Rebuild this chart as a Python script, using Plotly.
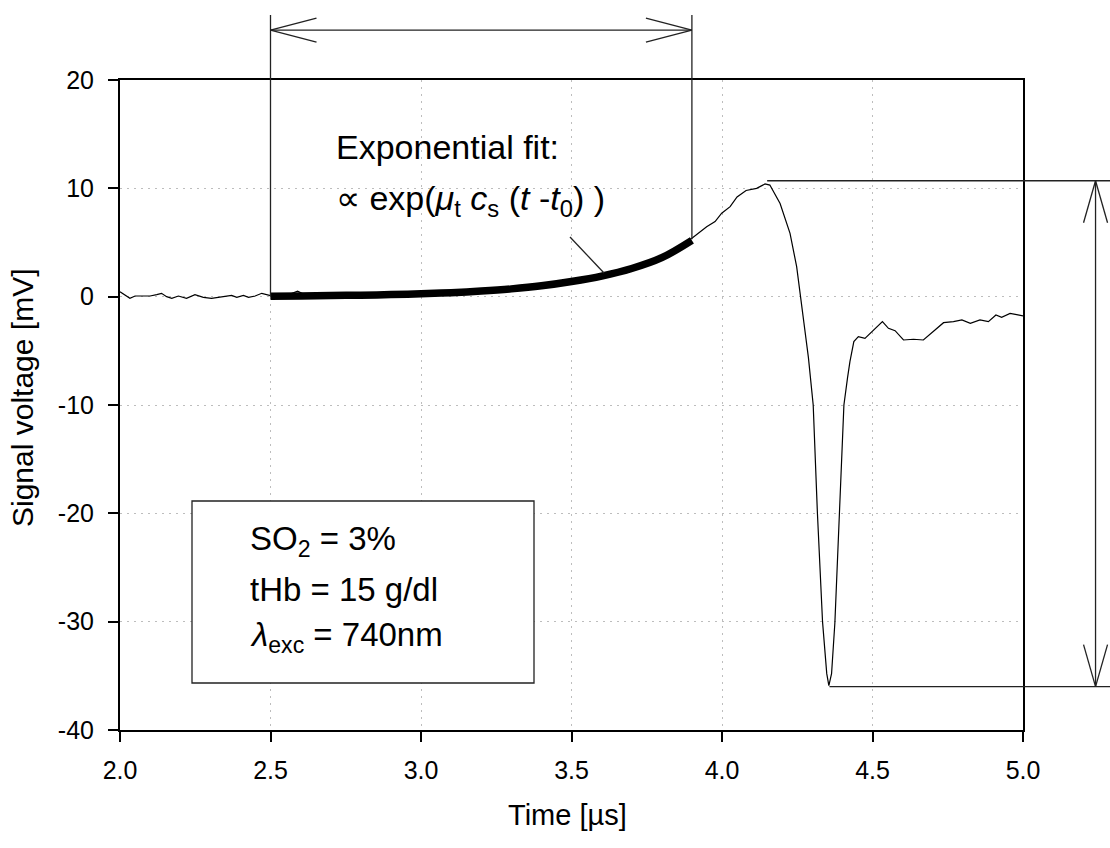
import plotly.graph_objects as go

# ---------------- data ----------------
t_sig = [2.00, 2.017, 2.033, 2.05, 2.077, 2.10, 2.122, 2.138, 2.155, 2.172, 2.194, 2.221,
         2.249, 2.277, 2.304, 2.332, 2.349, 2.371, 2.388, 2.41, 2.427, 2.449, 2.471, 2.488,
         2.50, 2.55, 2.59, 2.62, 2.70, 2.80, 2.90, 3.00, 3.10, 3.20, 3.30, 3.40, 3.50, 3.60,
         3.70, 3.80, 3.90,
         3.949, 3.977, 3.999, 4.027, 4.05, 4.08, 4.115, 4.143, 4.159, 4.193,
         4.226, 4.248, 4.27, 4.287, 4.303, 4.317, 4.334, 4.348, 4.355,
         4.364, 4.375, 4.39, 4.405, 4.417, 4.425, 4.438, 4.453, 4.475, 4.497,
         4.533, 4.553, 4.575, 4.603, 4.636, 4.669, 4.703, 4.736, 4.769, 4.797,
         4.825, 4.857, 4.885, 4.91, 4.929, 4.957, 4.979, 5.00]
v_sig = [0.46, 0.16, -0.15, 0.06, 0.06, 0.06, 0.19, 0.31, 0.0, -0.15, 0.06, -0.15,
         0.19, -0.06, -0.15, -0.06, 0.0, 0.12, -0.06, 0.12, -0.06, 0.06, 0.31, 0.19,
         0.10, 0.08, 0.50, 0.10, 0.12, 0.15, 0.20, 0.28, 0.38, 0.52, 0.73, 1.00, 1.40, 1.90,
         2.60, 3.65, 5.40,
         6.46, 6.93, 7.70, 8.31, 9.2, 9.8, 10.0, 10.4, 10.3, 8.6,
         5.85, 2.77, -2.15, -5.6, -10.0, -20.0, -30.0, -34.8, -35.9,
         -34.8, -30.1, -20.0, -10.0, -7.5, -6.0, -4.15, -3.69, -3.85, -3.23,
         -2.31, -2.92, -3.14, -4.0, -3.93, -4.0, -3.23, -2.4, -2.31, -2.15,
         -2.46, -2.15, -2.31, -1.69, -1.9, -1.54, -1.66, -1.78]

t_fit = [2.5, 2.6, 2.7, 2.8, 2.9, 3.0, 3.1, 3.2, 3.3, 3.4, 3.5, 3.6, 3.7, 3.8, 3.9]
v_fit = [0.05, 0.07, 0.10, 0.14, 0.19, 0.27, 0.37, 0.52, 0.72, 1.00, 1.40, 1.90, 2.60, 3.60, 5.20]

x_ticks = [2.0, 2.5, 3.0, 3.5, 4.0, 4.5, 5.0]
x_ticktext = ["2.0", "2.5", "3.0", "3.5", "4.0", "4.5", "5.0"]
y_ticks = [20, 10, 0, -10, -20, -30, -40]
y_ticktext = ["20", "10", "0", "-10", "-20", "-30", "-40"]

# marker values for the dimension lines
t_fit_start, t_fit_end = 2.5, 3.9
v_fit_end = 5.3
v_span_line = 24.6      # level of the horizontal double arrow
v_span_top = 26.0       # top of the vertical extension lines
t_peak, v_peak = 4.15, 10.7
t_min, v_min = 4.357, -36.0
t_amp_arrow = 5.241
t_right_end = 5.30

X_RANGE = [2.0, 5.0]
Y_RANGE = [-40.0, 20.0]

assert len(t_sig) == len(v_sig)

FONT = "Liberation Sans, Arial, sans-serif"
W, H = 1110, 848
ML, MR, MT, MB = 120, 87, 80, 118
PW, PH = W - ML - MR, H - MT - MB


def px(t):
    return (t - X_RANGE[0]) / (X_RANGE[1] - X_RANGE[0])


def py(v):
    return (v - Y_RANGE[0]) / (Y_RANGE[1] - Y_RANGE[0])


def pix_x(X):
    return (X - ML) / PW


def pix_y(Y):
    return (H - MB - Y) / PH


fig = go.Figure()
fig.add_trace(go.Scatter(x=t_sig, y=v_sig, mode="lines",
                         line=dict(color="black", width=1.2), showlegend=False))
fig.add_trace(go.Scatter(x=t_fit, y=v_fit, mode="lines",
                         line=dict(color="black", width=7.5, shape="spline"), showlegend=False))

shapes = []


def pline(x0, y0, x1, y1, w=1.3, col="#222222"):
    shapes.append(dict(type="line", xref="paper", yref="paper",
                       x0=x0, y0=y0, x1=x1, y1=y1,
                       line=dict(color=col, width=w), layer="above"))


# arrowhead sizes in data units
dt_head = 46 / PW * (X_RANGE[1] - X_RANGE[0])
dv_head = 12 / PH * (Y_RANGE[1] - Y_RANGE[0])
dt_head_v = 12 / PW * (X_RANGE[1] - X_RANGE[0])
dv_head_v = 42 / PH * (Y_RANGE[1] - Y_RANGE[0])

# vertical extension lines and horizontal double arrow
pline(px(t_fit_start), py(0.0), px(t_fit_start), py(v_span_top))
pline(px(t_fit_end), py(v_fit_end), px(t_fit_end), py(v_span_top))
pline(px(t_fit_start), py(v_span_line), px(t_fit_end), py(v_span_line))
for s in (1, -1):
    pline(px(t_fit_start), py(v_span_line), px(t_fit_start + dt_head), py(v_span_line + s * dv_head))
    pline(px(t_fit_end), py(v_span_line), px(t_fit_end - dt_head), py(v_span_line + s * dv_head))

# amplitude lines and vertical double arrow
pline(px(t_peak), py(v_peak), px(t_right_end), py(v_peak))
pline(px(t_min), py(v_min), px(t_right_end), py(v_min))
pline(px(t_amp_arrow), py(v_peak), px(t_amp_arrow), py(v_min))
for s in (1, -1):
    pline(px(t_amp_arrow), py(v_peak), px(t_amp_arrow + s * dt_head_v), py(v_peak - dv_head_v))
    pline(px(t_amp_arrow), py(v_min), px(t_amp_arrow + s * dt_head_v), py(v_min + dv_head_v))

# leader line from text to fit curve
pline(pix_x(570), pix_y(237), pix_x(604), pix_y(273))

# parameter box
shapes.append(dict(type="rect", xref="paper", yref="paper",
                   x0=pix_x(192), y0=pix_y(683), x1=pix_x(534), y1=pix_y(501),
                   line=dict(color="#222222", width=1.3), fillcolor="white", layer="above"))

annotations = []


def ptext(X, Y, txt, size, xanchor="left", yanchor="middle", angle=0):
    annotations.append(dict(xref="paper", yref="paper", x=pix_x(X), y=pix_y(Y),
                            text=txt, showarrow=False, xanchor=xanchor, yanchor=yanchor,
                            textangle=angle, font=dict(family=FONT, size=size, color="black")))


ptext(334, 147, "Exponential fit:", 34)
ptext(334, 200, "\u221d exp(<i>\u03bc</i><sub>t</sub> <i>c</i><sub>s</sub> (<i>t</i> -<i>t</i><sub>0</sub>) )", 34)
ptext(248, 541, "SO<sub>2</sub> = 3%", 33)
ptext(248, 589, "tHb = 15 g/dl", 33)
ptext(248, 637, "<i>\u03bb</i><sub>exc</sub> = 740nm", 33)

# axis titles
ptext(567, 815, "Time [\u00b5s]", 29, xanchor="center")
ptext(22, 398, "Signal voltage [mV]", 30, xanchor="center", angle=-90)

fig.update_layout(
    width=W, height=H,
    margin=dict(l=ML, r=MR, t=MT, b=MB, pad=0),
    paper_bgcolor="white", plot_bgcolor="white",
    font=dict(family=FONT, size=25, color="black"),
    shapes=shapes, annotations=annotations,
    showlegend=False,
)
common = dict(showline=True, linecolor="black", linewidth=2, mirror=True,
              ticks="outside", ticklen=10, tickwidth=1.5, tickcolor="black",
              showgrid=True, gridcolor="#bdbdbd", gridwidth=1, griddash="2px,5px",
              zeroline=False, tickfont=dict(size=25, family=FONT))
fig.update_xaxes(range=X_RANGE, tickvals=x_ticks, ticktext=x_ticktext,
                 ticklabelstandoff=7, **common)
fig.update_yaxes(range=Y_RANGE, tickvals=y_ticks, ticktext=y_ticktext,
                 ticklabelstandoff=9, **common)

fig.write_html("out.html", config={"displayModeBar": False},
               post_script="document.body.style.margin='0px';"
                           "document.body.style.overflow='hidden';")
